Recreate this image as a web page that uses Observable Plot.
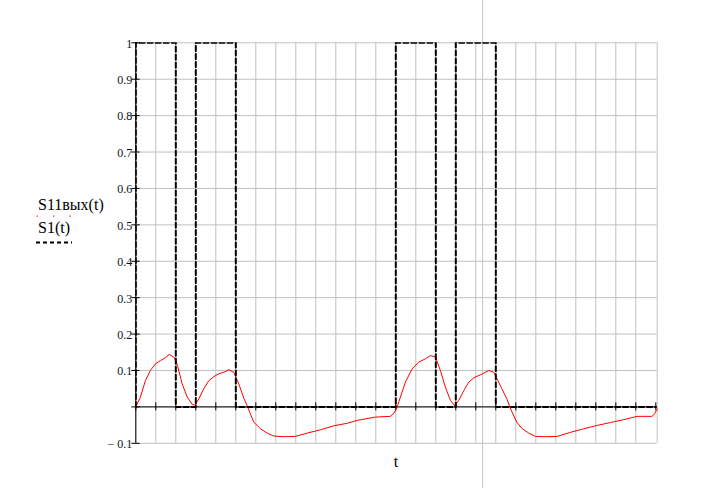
<!DOCTYPE html>
<html>
<head>
<meta charset="utf-8">
<script src="https://cdn.jsdelivr.net/npm/d3@7"></script>
<script src="https://cdn.jsdelivr.net/npm/@observablehq/plot@0.6"></script>
<style>
  html, body { margin: 0; padding: 0; background: #fff; }
  #chart { position: relative; width: 713px; height: 488px; }
</style>
</head>
<body>
<div id="chart"></div>
<script>
// ---- data ----
const tMax = 26.07;
const cursorT = [17.34];

// S1(t): square pulses (breakpoints)
const s1T = [0, 0, 2, 2, 3, 3, 5, 5, 13, 13, 15, 15, 16, 16, 18, 18, 26.07];
const s1V = [0, 1, 1, 0, 0, 1, 1, 0, 0, 1, 1, 0, 0, 1, 1, 0, 0];

// S11вых(t): output response
const outT = [0, 0.23, 0.48, 0.73, 0.98, 1.23, 1.48, 1.66, 1.9, 2.0, 2.1, 2.32, 2.57, 2.82, 2.95, 3.15, 3.4, 3.65, 3.9, 4.15, 4.4, 4.65, 4.9, 5.15, 5.4, 5.57, 5.75, 5.9, 6.23, 6.57, 6.9, 7.4, 7.98, 8.57, 9.23, 9.9, 10.57, 11.07, 11.98, 12.73, 12.9, 13.05, 13.23, 13.48, 13.82, 14.15, 14.48, 14.73, 14.98, 15.23, 15.48, 15.73, 15.93, 16.15, 16.4, 16.65, 16.9, 17.23, 17.65, 17.9, 18.23, 18.57, 18.7, 18.9, 19.05, 19.32, 19.65, 19.98, 20.5, 21.07, 21.73, 22.4, 23.07, 23.73, 24.4, 25.07, 25.82, 25.95, 26.07];
const outV = [0, 0.027, 0.072, 0.100, 0.118, 0.127, 0.135, 0.144, 0.137, 0.126, 0.110, 0.063, 0.027, 0.007, 0.005, 0.022, 0.050, 0.072, 0.083, 0.091, 0.095, 0.102, 0.095, 0.063, 0.024, 0.003, -0.022, -0.042, -0.060, -0.072, -0.080, -0.082, -0.081, -0.072, -0.063, -0.052, -0.045, -0.037, -0.028, -0.026, -0.018, -0.003, 0.027, 0.068, 0.105, 0.123, 0.132, 0.141, 0.137, 0.100, 0.054, 0.018, 0.004, 0.018, 0.045, 0.068, 0.080, 0.088, 0.100, 0.095, 0.058, 0.020, 0.000, -0.025, -0.042, -0.060, -0.072, -0.081, -0.082, -0.081, -0.070, -0.060, -0.051, -0.043, -0.035, -0.026, -0.026, -0.018, -0.005];

// ticks & labels
const yTicks = [-0.1, 0, 0.1, 0.2, 0.3, 0.4, 0.5, 0.6, 0.7, 0.8, 0.9, 1];
const yTickLabels = ["\u2212 0.1", "", "0.1", "0.2", "0.3", "0.4", "0.5", "0.6", "0.7", "0.8", "0.9", "1"];
const xGrid = [0,1,2,3,4,5,6,7,8,9,10,11,12,13,14,15,16,17,18,19,20,21,22,23,24,25, tMax];
const xTicks = [0,1,2,3,4,5,6,7,8,9,10,11,12,13,14,15,16,17,18,19,20,21,22,23,24,25,26];
const legendNames = ["S11вых(t)", "S1(t)"];
const xLabel = "t";

// ---- build tables ----
const s1Data = s1T.map((t, i) => ({t, v: s1V[i]}));
const outData = outT.map((t, i) => ({t, v: outV[i]}));
const yLab = yTicks.map((v, i) => ({v, label: yTickLabels[i]})).filter(d => d.label);

const serif = "'Liberation Serif', 'Times New Roman', serif";

const plot = Plot.plot({
  width: 713,
  height: 488,
  marginLeft: 135.3,
  marginRight: 56.3,
  marginTop: 42.3,
  marginBottom: 45.2,
  x: {domain: [0, tMax], axis: null},
  y: {domain: [-0.1, 1], axis: null},
  style: {background: "white"},
  marks: [
    Plot.ruleY(yTicks, {stroke: "#c0c0c0", strokeWidth: 1}),
    Plot.ruleX(xGrid, {stroke: "#c0c0c0", strokeWidth: 1}),
    Plot.ruleX(cursorT, {y1: -0.235, y2: 1.125, stroke: "#c4c4c4", strokeWidth: 1, clip: false}),
    // axes
    Plot.ruleY([0], {x1: 0, x2: tMax, stroke: "black", strokeWidth: 1}),
    Plot.ruleX([0], {y1: -0.1, y2: 1, stroke: "black", strokeWidth: 1}),
    Plot.ruleX(xTicks.filter(d => d <= tMax), {y1: -0.011, y2: 0.011, stroke: "black", strokeWidth: 1}),
    Plot.ruleY(yTicks, {x1: -0.2, x2: 0.22, stroke: "black", strokeWidth: 1, clip: false}),
    // series
    Plot.line(outData, {x: "t", y: "v", stroke: "#ff0000", strokeWidth: 1, curve: "linear"}),
    Plot.line(s1Data, {x: "t", y: "v", stroke: "black", strokeWidth: 2, strokeDasharray: "5,3", clip: true}),
    // tick labels
    Plot.text(yLab, {x: 0, y: "v", text: "label", textAnchor: "end", dx: -3.6, dy: 1, fontFamily: serif, fontSize: 12, fill: "#111"})
  ]
});

document.getElementById("chart").appendChild(plot);

// legend and axis label (real text) added into the SVG
const svg = d3.select(plot);
const g = svg.append("g").attr("text-anchor", "start").attr("font-family", serif).attr("font-size", 16);
g.append("text").attr("x", 38).attr("y", 210).attr("text-anchor", "start").attr("fill", "#000").text(legendNames[0]);
g.append("text").attr("x", 38).attr("y", 233).attr("text-anchor", "start").attr("fill", "#000").text(legendNames[1]);
[37, 53.5, 70].forEach(x => g.append("rect").attr("x", x - 0.5).attr("y", 215.5).attr("width", 1.2).attr("height", 1.2).attr("fill", "#ff0000"));
g.append("line").attr("x1", 36).attr("x2", 72).attr("y1", 242.5).attr("y2", 242.5).attr("stroke", "black").attr("stroke-width", 2).attr("stroke-dasharray", "4,3");
g.append("text").attr("x", 396).attr("y", 467).attr("text-anchor", "middle").attr("fill", "#000").text(xLabel);
</script>
</body>
</html>
